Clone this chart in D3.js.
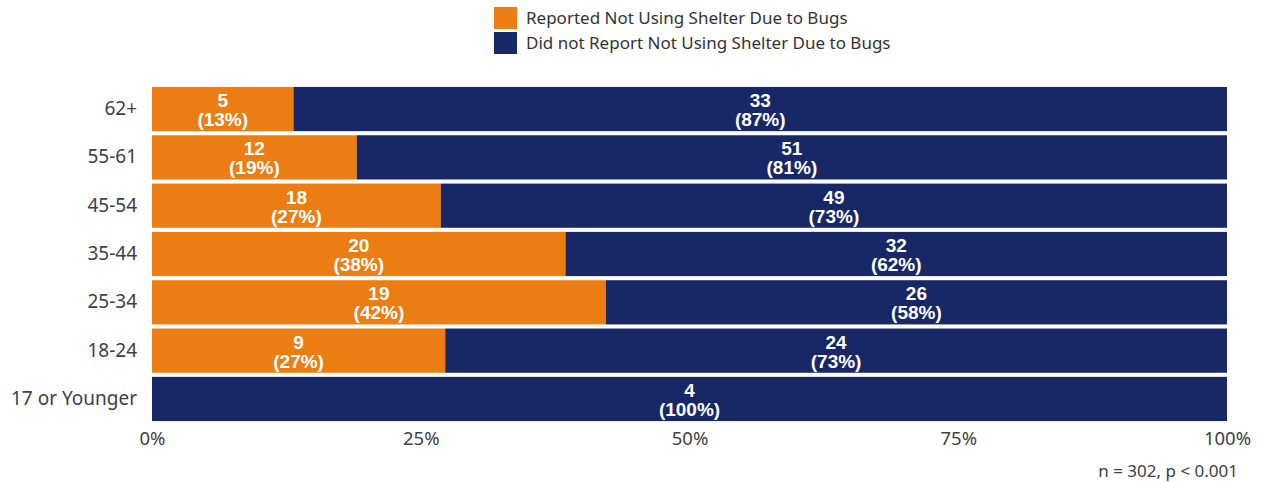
<!DOCTYPE html>
<html>
<head>
<meta charset="utf-8">
<script src="https://cdn.jsdelivr.net/npm/d3@7"></script>
<style>
  html, body { margin: 0; padding: 0; background: #fff; }
  svg { display: block; }
</style>
</head>
<body>
<svg id="chart" width="1263" height="482"></svg>
<script>
// Age groups, top to bottom
const categories = ["62+", "55-61", "45-54", "35-44", "25-34", "18-24", "17 or Younger"];
// Respondents who reported not using shelter due to bugs
const reported = [5, 12, 18, 20, 19, 9, 0];
// Respondents who did not report it
const notReported = [33, 51, 49, 32, 26, 24, 4];
const seriesNames = ["Reported Not Using Shelter Due to Bugs", "Did not Report Not Using Shelter Due to Bugs"];
const seriesColors = ["#EC7D13", "#182867"];
const xTicks = [0, 0.25, 0.5, 0.75, 1];
const footnote = "n = 302, p < 0.001";

const svg = d3.select("#chart");
const margin = { left: 152, right: 36, top: 85, bottom: 59 };
const W = 1263, H = 482;

const rows = categories.map((c, i) => {
  const total = reported[i] + notReported[i];
  return { cat: c, vals: [reported[i], notReported[i]], total };
});

const x = d3.scaleLinear().domain([0, 1]).range([margin.left, W - margin.right]);
const y = d3.scaleBand().domain(categories).range([margin.top, H - margin.bottom]).paddingInner(0.085).paddingOuter(0.04);

const axisFont = "'Noto Sans', 'Open Sans', sans-serif";

// Stacked segments
rows.forEach(r => {
  let cum = 0;
  r.vals.forEach((v, k) => {
    if (v === 0) return;
    const p0 = cum / r.total, p1 = (cum + v) / r.total;
    cum += v;
    const x0 = x(p0), x1 = x(p1);
    svg.append("rect")
      .attr("x", x0).attr("y", y(r.cat))
      .attr("width", x1 - x0).attr("height", y.bandwidth())
      .attr("fill", seriesColors[k]);
    const cx = (x0 + x1) / 2, cy = y(r.cat) + y.bandwidth() / 2;
    const pct = Math.round((v / r.total) * 100);
    const t = svg.append("text")
      .attr("x", cx).attr("text-anchor", "middle")
      .attr("fill", "#fff")
      .style("font-family", "Arial, 'Liberation Sans', sans-serif")
      .style("font-weight", "bold").style("font-size", "19px");
    t.append("tspan").attr("x", cx).attr("y", cy - 2).text(v);
    t.append("tspan").attr("x", cx).attr("y", cy + 17).text("(" + pct + "%)");
  });
});

// Category labels
const yAxis = svg.append("g").attr("transform", `translate(${margin.left},0)`)
  .call(d3.axisLeft(y).tickSize(0).tickPadding(15));
yAxis.select(".domain").remove();
yAxis.selectAll("text")
  .style("font-family", axisFont).style("font-size", "19px").attr("fill", "#404040");

// Percentage axis
const xAxis = svg.append("g").attr("transform", `translate(0,${H - margin.bottom})`)
  .call(d3.axisBottom(x).tickValues(xTicks).tickFormat(d3.format(".0%")).tickSize(0).tickPadding(9));
xAxis.select(".domain").remove();
xAxis.selectAll("text")
  .style("font-family", axisFont).style("font-size", "18.5px").attr("fill", "#404040");

// Legend
const legend = svg.append("g").attr("transform", "translate(494,7)");
seriesNames.forEach((name, i) => {
  const g = legend.append("g").attr("transform", `translate(0,${i * 25})`);
  g.append("rect").attr("width", 23).attr("height", 22).attr("fill", seriesColors[i]);
  g.append("text").attr("x", 32).attr("y", 17)
    .style("font-family", axisFont).style("font-size", "17px").attr("fill", "#333")
    .text(name);
});

// Footnote
svg.append("text").attr("x", 1238).attr("y", 477).attr("text-anchor", "end")
  .style("font-family", axisFont).style("font-size", "17px").attr("fill", "#404040")
  .text(footnote);
</script>
</body>
</html>
